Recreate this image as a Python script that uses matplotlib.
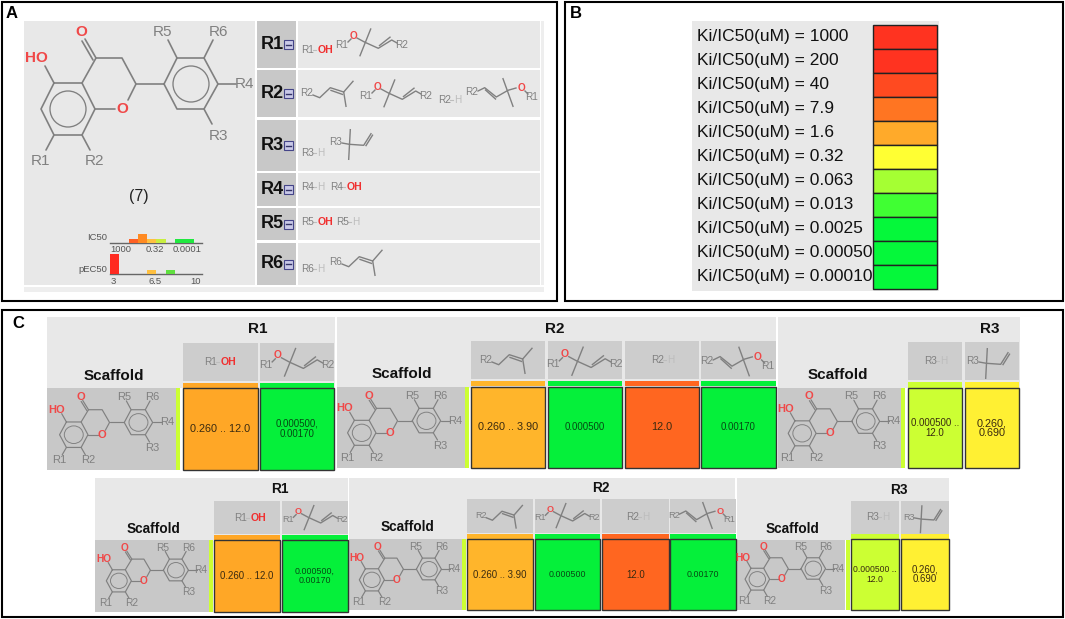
import matplotlib
matplotlib.use("Agg")
import matplotlib.pyplot as plt
from matplotlib.patches import Rectangle, Ellipse

W, H = 1065, 619
plt.rcParams['font.family'] = ['Liberation Sans', 'DejaVu Sans']

# colour key (panel B)
key_values = ["1000", "200", "40", "7.9", "1.6", "0.32", "0.063", "0.013", "0.0025", "0.00050", "0.00010"]
key_colors = ["#FF3320", "#FF3320", "#FF4A20", "#FF7522", "#FFAA2A", "#FFFF33",
              "#A5FF33", "#40FF33", "#05F83A", "#05F83A", "#05F83A"]

# histograms under the scaffold (panel A)
ic50_counts = [0, 0, 1, 2, 1, 1, 0, 1, 1, 0]
ic50_colors = ["#FF3320", "#FF3320", "#FF6024", "#FF8A22", "#FFC040", "#C8EE40", "#40FF33", "#20E840", "#20E840", "#20E840"]
ic50_ticks = ["1000", "0.32", "0.0001"]
pec50_counts = [5, 0, 0, 0, 1, 0, 1, 0, 0, 0]
pec50_colors = ["#FF2A20", "#FF3320", "#FF6024", "#FF8A22", "#FFC040", "#FFFF33", "#60E040", "#20E840", "#20E840", "#20E840"]
pec50_ticks = ["3", "6.5", "10"]

# SAR table values (panel C)
r1_values = ["0.260 .. 12.0", "0.000500,\n0.00170"]
r1_colors = ["#FFA726", "#05F03A"]
r2_values = ["0.260 .. 3.90", "0.000500", "12.0", "0.00170"]
r2_colors = ["#FFB52B", "#05F03A", "#FF6620", "#05F03A"]
r3_values = ["0.000500 ..\n12.0", "0.260,\n0.690"]
r3_colors = ["#CCFF33", "#FFF033"]

GRAY = "#808080"
LIGHT = "#BDBDBD"
RED = "#F04848"
PANEL = "#E8E8E8"
CELL = "#CDCDCD"

fig = plt.figure(figsize=(W / 100, H / 100), dpi=100)
ax = fig.add_axes([0, 0, 1, 1])
ax.set_xlim(0, W)
ax.set_ylim(H, 0)
ax.axis("off")


def box(x0, y0, x1, y1, color, edge="none", lw=0, z=1):
    ax.add_patch(Rectangle((x0, y0), x1 - x0, y1 - y0, facecolor=color, edgecolor=edge, linewidth=lw, zorder=z))


def label(x, y, s, size, color="black", weight="normal", ha="center"):
    ax.text(x, y, s, fontsize=size, color=color, fontweight=weight, ha=ha, va="center", zorder=5, linespacing=1.0)


def scaffold(ox, oy, sx, sy, size, lw):
    """Flavanone core with R1-R6; base geometry is the large drawing of panel A."""
    a = [(54, 83), (82, 83), (95, 109), (82, 135), (54, 135), (41, 109), (54, 83)]
    b = [(164, 84), (177, 58), (204, 58), (218, 84), (204, 109), (177, 109), (164, 84)]
    bonds = [a, b,
             [(82, 83), (96, 58), (122, 58), (136, 84), (128, 100)],
             [(115, 109), (95, 109)],
             [(136, 84), (164, 84)],
             [(54, 83), (45, 66)],
             [(54, 135), (46, 150)],
             [(82, 135), (90, 150)],
             [(177, 58), (168, 40)],
             [(204, 58), (213, 40)],
             [(218, 84), (236, 84)],
             [(204, 109), (212, 124)],
             [(96, 58), (85, 39)],
             [(93, 60), (82, 41)]]
    for pts in bonds:
        ax.plot([ox + sx * p[0] for p in pts], [oy + sy * p[1] for p in pts],
                color=GRAY, lw=lw, zorder=4, solid_capstyle="round")
    for cx, cy in [(68, 109), (191, 84)]:
        ax.add_patch(Ellipse((ox + sx * cx, oy + sy * cy), 36 * sx, 36 * sy, fill=False,
                             edgecolor=GRAY, lw=lw * 0.8, zorder=4))
    names = [("R1", 40, 161), ("R2", 95, 161), ("R3", 218, 136), ("R4", 245, 84), ("R5", 163, 32), ("R6", 218, 32)]
    for name, x, y in names:
        label(ox + sx * x, oy + sy * y, name, size, GRAY)
    label(ox + sx * 36, oy + sy * 58, "HO", size, RED, "bold")
    label(ox + sx * 81, oy + sy * 32, "O", size, RED, "bold")
    label(ox + sx * 122, oy + sy * 109, "O", size, RED, "bold")


ETHER = ([[(6, -3), (9, -6)], [(15, -7), (23, -2.7), (36.3, 3.3), (49.7, -5), (55, -2)],
          [(28.7, -16), (18, 10.7)], [(37.5, 0.5), (48, -7.8)]],
         [("R1", 0, 0, GRAY), ("O", 11.3, -9.3, RED), ("R2", 59.7, 0, GRAY)])
PRENYL = ([[(6, 2), (12.7, 4.7), (23.3, -5.3), (36.7, -1), (46, -11.7)],
           [(36.7, -1), (39, 13.3)], [(24, -2.6), (35.5, 1.4)]],
          [("R", 0, 0, GRAY)])
REVERSE = ([[(6, -1), (12.7, -4.3), (24.3, 5), (36, -1.7), (44, -4)], [(31, -13.3), (41, 14.3)],
            [(13.5, -2), (23.5, 7)], [(53, -1), (56, 2)]],
           [("R2", 0, 0, GRAY), ("O", 49.3, -4.3, RED), ("R1", 59.3, 5, GRAY)])
TERT = ([[(6, 1), (13.3, 2.3), (27.7, 3.3), (35, -8.3)], [(14.3, -12.3), (12.7, 17.3)], [(30, 3.6), (36.5, -6.8)]],
        [("R3", 0, 0, GRAY)])


def fragment(frag, x, y, scale=1.0, name=None):
    bonds, texts = frag
    for pts in bonds:
        ax.plot([x + scale * p[0] for p in pts], [y + scale * p[1] for p in pts], color=GRAY, lw=1.0, zorder=4)
    for s, dx, dy, c in texts:
        label(x + scale * dx, y + scale * dy, name if s == "R" and name else s, 7.2 * scale, c, "bold" if c == RED else "normal")


def simple(x, y, name, end, scale=1.0):
    ax.text(x, y, name, fontsize=7.2 * scale, color=GRAY, ha="left", va="center", zorder=5)
    ax.plot([x + 12 * scale, x + 15 * scale], [y, y], color=LIGHT, lw=0.8, zorder=4)
    if end == "OH":
        ax.text(x + 16.5 * scale, y, "OH", fontsize=7.6 * scale, color="#F03030", fontweight="bold", ha="left", va="center", zorder=5)
    else:
        ax.text(x + 16.5 * scale, y, "H", fontsize=7.2 * scale, color=LIGHT, ha="left", va="center", zorder=5)


# panel frames
for x0, y0, x1, y1 in [(2, 2, 557, 301), (565, 2, 1063, 301), (2, 310, 1063, 617)]:
    box(x0, y0, x1, y1, "white", "black", 1.5, z=0)
label(12, 14, "A", 12, weight="bold")
label(576, 14, "B", 12, weight="bold")
label(18, 323, "C", 12, weight="bold")

# --- panel A ---
box(24, 21, 255, 285, PANEL)
box(24, 287, 544, 292, "#EEEEEE")
scaffold(0, 0, 1.0, 1.0, 11, 1.2)
label(139, 197, "(7)", 11.5, "#222222")

rows_y = [(21, 68), (70, 117), (120, 171), (173, 206), (208, 240), (243, 285)]
for i, (y0, y1) in enumerate(rows_y):
    box(257, y0, 296, y1, "#C8C8C8")
    box(298, y0, 540, y1, PANEL)
    ym = (y0 + y1) / 2
    label(261, ym, "R%d" % (i + 1), 13, "#111111", "bold", ha="left")
    box(284, ym - 4.5, 293, ym + 4.5, "#C9C9E8", "#444488", 0.8, z=3)
    ax.plot([286, 291], [ym, ym], color="#333366", lw=1, zorder=4)
box(541, 21, 544, 285, "#EEEEEE")

simple(301, 50, "R1", "OH")
fragment(ETHER, 342, 45)
fragment(PRENYL, 307, 93, name="R2")
fragment(ETHER, 366, 96)
simple(438, 100, "R2", "H")
fragment(REVERSE, 472, 92)
simple(301, 153, "R3", "H")
fragment(TERT, 336, 142)
simple(301, 187, "R4", "H")
simple(330, 187, "R4", "OH")
simple(301, 222, "R5", "OH")
simple(336, 222, "R5", "H")
simple(301, 269, "R6", "H")
fragment(PRENYL, 336, 262, name="R6")


def histogram(x0, x1, y_axis, px_per_count, counts, colors, ticks, tick_x, tick_y, name, name_x, name_y):
    hax = fig.add_axes([x0 / W, 1 - y_axis / H, (x1 - x0) / W, 24 / H])
    hax.patch.set_alpha(0)
    hax.set_xlim(0, 9.9)
    hax.set_ylim(0, 24 / px_per_count)
    hax.bar(range(10), counts, width=1.0, align="edge", color=colors)
    hax.axis("off")
    ax.plot([x0, x1], [y_axis, y_axis], color="#666666", lw=1, zorder=4)
    for s, x in zip(ticks, tick_x):
        label(x, tick_y, s, 6.8, "#555555")
    label(name_x, name_y, name, 6.8, "#555555")


histogram(110, 202, 243, 4.4, ic50_counts, ic50_colors, ic50_ticks, [121, 155, 187], 250, "IC50", 97, 238)
histogram(110, 202, 274, 4.1, pec50_counts, pec50_colors, pec50_ticks, [113, 155, 196], 281, "pEC50", 93, 270)

# --- panel B ---
box(692, 21, 939, 291, PANEL)
row_h = 24.0
for i, (v, c) in enumerate(zip(key_values, key_colors)):
    y0 = 24.5 + i * row_h
    box(873, y0, 937, y0 + row_h, c, "#222222", 1.0, z=3)
    label(697, y0 + row_h / 2, "Ki/IC50(uM) = " + v, 12.5, "#111111", ha="left")


# --- panel C ---
def section(x_cells, values, colors, head_y, strip_y, cell_y, size_big, size_small):
    for (x0, x1), v, c in zip(x_cells, values, colors):
        box(x0, head_y[0], x1, head_y[1], CELL, z=2)
        box(x0, strip_y[0], x1, strip_y[1], c, z=2)
        box(x0, cell_y[0], x1, cell_y[1], c, "#333333", 1.0, z=3)
        small = v.startswith("0.000") or v == "0.00170"
        label((x0 + x1) / 2, (cell_y[0] + cell_y[1]) / 2, v, size_small if small else size_big,
              "#3A2A10" if c != "#05F03A" else "#064A14")


def table(bands, band_y, scaffolds, strips, sections, titles, scaffold_names, mol_size, title_size):
    for x0, x1 in bands:
        box(x0, band_y[0], x1, band_y[1], PANEL)
    for (bx0, bx1, by0, by1, ox, oy, sx, sy) in scaffolds:
        box(bx0, by0, bx1, by1, "#C8C8C8", z=2)
        scaffold(ox, oy, sx, sy, mol_size, 0.85)
    for x0, x1, y0, y1 in strips:
        box(x0, y0, x1, y1, "#CCFF33", z=2)
    for sec in sections:
        section(*sec)
    for s, x, y in titles:
        label(x, y, s, title_size, "#111111", "bold")
    for x, y in scaffold_names:
        label(x, y, "Scaffold", title_size, "#111111", "bold")


table([(47, 335), (337, 776), (778, 1020)], (317, 388),
      [(47, 176, 388, 470, 38, 381.3, 0.526, 0.49),
       (337, 465, 387, 468, 326, 380.5, 0.526, 0.48),
       (778, 901, 388, 468, 767, 381, 0.517, 0.48)],
      [(176, 180, 388, 470), (465, 469, 387, 468), (901, 905, 388, 468)],
      [([(183, 258), (260, 334)], r1_values, r1_colors, (343, 381), (383, 388), (388, 470), 7.8, 7.0),
       ([(471, 545), (548, 622), (625, 699), (701, 776)], r2_values, r2_colors, (341, 379), (381, 386), (387, 468), 7.8, 7.0),
       ([(908, 962), (965, 1019)], r3_values, r3_colors, (342, 380), (382, 388), (388, 468), 7.8, 7.0)],
      [("R1", 258, 329), ("R2", 555, 329), ("R3", 990, 329)],
      [(114, 376), (402, 374), (838, 375)], 8, 11)

table([(95, 348), (349, 735), (737, 949)], (478, 540),
      [(95, 209, 540, 612, 87.3, 534.4, 0.464, 0.426),
       (349, 462, 539, 610, 340.3, 533.4, 0.464, 0.426),
       (737, 845, 540, 610, 726.4, 533.4, 0.455, 0.42)],
      [(209, 213, 540, 612), (462, 466, 539, 610), (846, 850, 540, 610)],
      [([(214, 280), (282, 348)], r1_values, r1_colors, (501, 534), (535, 540), (540, 612), 6.9, 6.4),
       ([(467, 533), (535, 600), (602, 669), (670, 736)], r2_values, r2_colors, (499, 533), (534, 539), (539, 610), 6.9, 6.4),
       ([(851, 899), (901, 949)], r3_values, r3_colors, (501, 534), (534, 539), (539, 610), 6.9, 6.2)],
      [("R1", 280, 489), ("R2", 601, 488), ("R3", 899, 490)],
      [(153, 529), (407, 527), (792, 529)], 7.3, 9.8)

# substituent drawings in the header cells
simple(204, 362, "R1", "OH")
fragment(ETHER, 266, 365, 1.03)
fragment(PRENYL, 486, 360, name="R2")
fragment(ETHER, 553, 364, 1.05)
simple(651, 360, "R2", "H")
fragment(REVERSE, 707, 361, 1.03)
simple(924, 361, "R3", "H")
fragment(TERT, 973, 361)

simple(234, 518, "R1", "OH")
fragment(ETHER, 288, 520, 0.9)
fragment(PRENYL, 481, 516, 0.9, name="R2")
fragment(ETHER, 540, 518, 0.9)
simple(626, 517, "R2", "H")
fragment(REVERSE, 674, 515, 0.93)
simple(866, 517, "R3", "H")
fragment(TERT, 909, 517, 0.9)

fig.savefig("out.png", dpi=100)
